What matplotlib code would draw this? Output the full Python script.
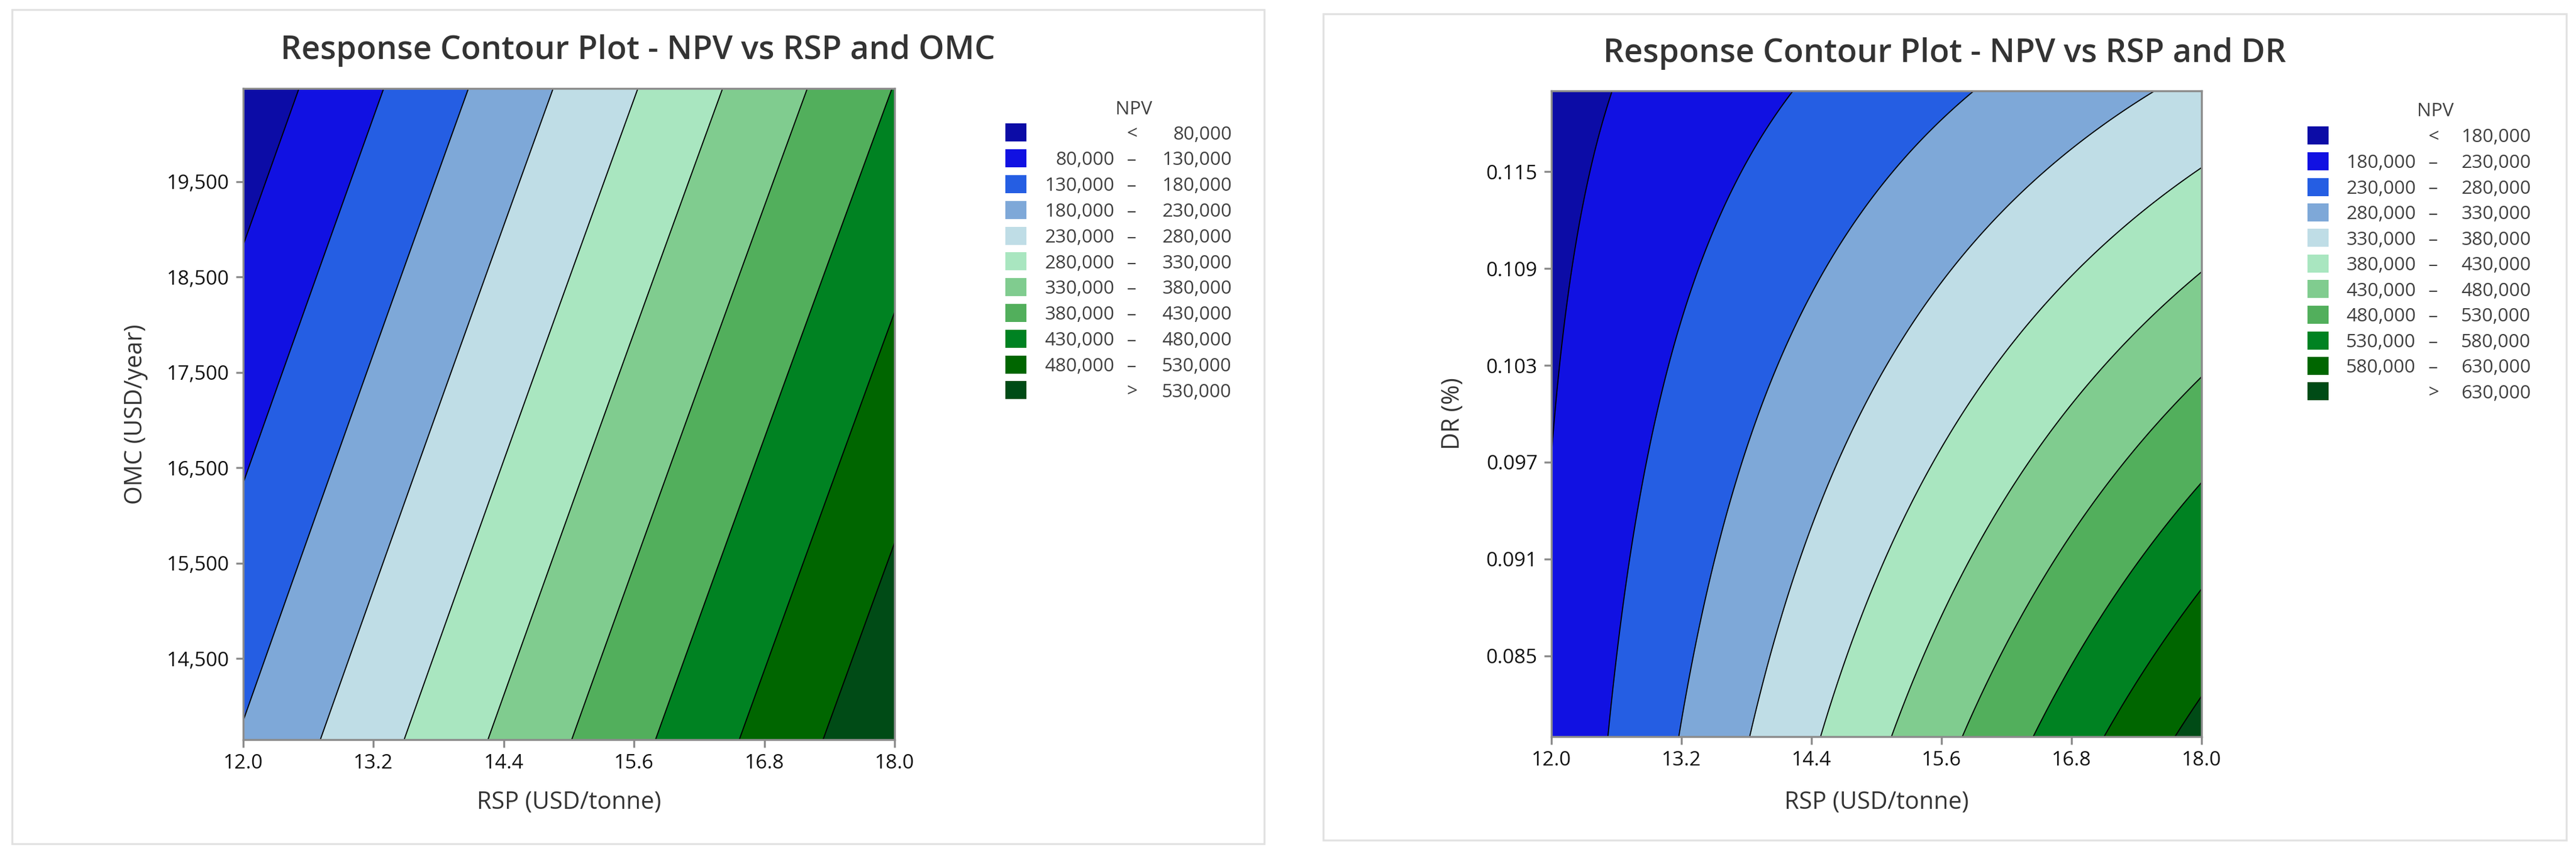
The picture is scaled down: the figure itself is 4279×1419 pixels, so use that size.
import numpy as np
import matplotlib
matplotlib.use('Agg')
import matplotlib.pyplot as plt
from matplotlib.patches import Rectangle
from matplotlib.ticker import FuncFormatter

# Werte (NPV an Stuetzstellen)
rsp_pts_omc = [12.0, 15.0, 18.0]
omc_pts = [13650, 17062.5, 20475]
npv_omc = [[184000, 378300, 572700],
           [115500, 308800, 502100],
           [47100, 239300, 431500]]

rsp_pts_dr = [12.0, 13.5, 15.0, 16.5, 18.0]
dr_pts = [0.08, 0.09, 0.10, 0.11, 0.12]
npv_dr = [[191100, 305400, 419700, 534000, 648300],
          [183200, 280800, 378300, 475900, 573400],
          [178600, 258600, 338600, 418600, 498700],
          [170900, 233300, 295700, 358100, 420500],
          [163600, 208300, 253100, 297800, 342500]]

levels_omc = [80000, 130000, 180000, 230000, 280000, 330000,
              380000, 430000, 480000, 530000]
levels_dr = [180000, 230000, 280000, 330000, 380000, 430000,
             480000, 530000, 580000, 630000]

rsp_ticks = [12.0, 13.2, 14.4, 15.6, 16.8, 18.0]
omc_ticks = [14500, 15500, 16500, 17500, 18500, 19500]
dr_ticks = [0.085, 0.091, 0.097, 0.103, 0.109, 0.115]

colors = ['#0c0ca6', '#1111e2', '#255ee3', '#7ea8d8', '#bfdde6', '#a9e6c0',
          '#80cc8f', '#52af5c', '#008222', '#006600', '#004b16']

W, H = 4279, 1419
plt.rcParams['font.family'] = ['Open Sans', 'DejaVu Sans']
fig = plt.figure(figsize=(W / 300, H / 300), dpi=300)


def fx(x):
    return x / W


def fy(y):
    return 1 - y / H


def response_surface(xp, yp, z, xlim, ylim, n=300):
    X, Y = np.meshgrid(xp, yp)
    Z = np.asarray(z, dtype=float)
    xm, xs = np.mean(xlim), (xlim[1] - xlim[0]) / 2
    ym, ys = np.mean(ylim), (ylim[1] - ylim[0]) / 2
    u, v = (X.ravel() - xm) / xs, (Y.ravel() - ym) / ys
    A = np.column_stack([np.ones_like(u), u, v, u * u, v * v, u * v])
    coef, *_ = np.linalg.lstsq(A, Z.ravel(), rcond=None)
    gx = np.linspace(xlim[0], xlim[1], n)
    gy = np.linspace(ylim[0], ylim[1], n)
    GX, GY = np.meshgrid(gx, gy)
    U, V = (GX - xm) / xs, (GY - ym) / ys
    GZ = coef[0] + coef[1] * U + coef[2] * V + coef[3] * U * U + coef[4] * V * V + coef[5] * U * V
    return GX, GY, GZ


def panel(box, frame, title, title_xy, xp, yp, z, ylim, levels, yticks, yfmt,
          ylabel, ylabel_x, leg):
    x0, y0, x1, y1 = box
    fig.patches.append(Rectangle((fx(frame[0]), fy(frame[3])),
                                 fx(frame[2] - frame[0]), (frame[3] - frame[1]) / H,
                                 transform=fig.transFigure, fill=False,
                                 edgecolor='#e2e2e2', lw=0.8))
    ax = fig.add_axes([fx(x0), fy(y1), fx(x1 - x0), (y1 - y0) / H])
    GX, GY, GZ = response_surface(xp, yp, z, (12.0, 18.0), ylim)
    bounds = [-1e12] + levels + [1e12]
    ax.contourf(GX, GY, GZ, levels=bounds, colors=colors)
    ax.contour(GX, GY, GZ, levels=levels, colors='black', linewidths=0.45)
    ax.set_xlim(12.0, 18.0)
    ax.set_ylim(*ylim)
    ax.set_xticks(rsp_ticks)
    ax.set_xticklabels([f'{t:.1f}' for t in rsp_ticks])
    ax.set_yticks(yticks)
    ax.yaxis.set_major_formatter(FuncFormatter(yfmt))
    ax.tick_params(length=3, width=0.8, color='#8c8c8c', labelsize=8,
                   labelcolor='#111111', pad=2.5)
    for s in ax.spines.values():
        s.set_color('#8c8c8c')
        s.set_linewidth(0.8)

    fig.text(fx(title_xy[0]), fy(title_xy[1]), title, ha='center', va='center',
             fontsize=13, color='#333333', fontweight='semibold')
    fig.text(fx((x0 + x1) / 2), fy(1334), 'RSP (USD/tonne)', ha='center',
             va='center', fontsize=9.5, color='#333333')
    fig.text(fx(ylabel_x), fy((y0 + y1) / 2), ylabel, ha='center', va='center',
             rotation=90, fontsize=9.5, color='#333333')

    # Legende von Hand
    sx, lo_r, dash_x, hi_r, npv_xy, row0, step = leg
    fig.text(fx(npv_xy[0]), fy(npv_xy[1]), 'NPV', ha='center', va='center',
             fontsize=7.5, color='#404040')
    labels = [(None, '<', levels[0])]
    labels += [(levels[i], '–', levels[i + 1]) for i in range(len(levels) - 1)]
    labels += [(None, '>', levels[-1])]
    for i, (lo, sym, hi) in enumerate(labels):
        cy = row0 + i * step
        fig.patches.append(Rectangle((fx(sx), fy(cy + 15)), fx(35), 30 / H,
                                     transform=fig.transFigure,
                                     facecolor=colors[i], edgecolor='none'))
        ty = fy(cy + 3)
        if lo is not None:
            fig.text(fx(lo_r), ty, f'{lo:,}', ha='right', va='center',
                     fontsize=7.5, color='#404040')
        fig.text(fx(dash_x), ty, sym, ha='center', va='center',
                 fontsize=7.5, color='#404040')
        fig.text(fx(hi_r), ty, f'{hi:,}', ha='right', va='center',
                 fontsize=7.5, color='#404040')
    return ax


panel((404, 147, 1486, 1229), (20, 16, 2100, 1402),
      'Response Contour Plot - NPV vs RSP and OMC', (1060, 84),
      rsp_pts_omc, omc_pts, npv_omc, (13650, 20475), levels_omc, omc_ticks,
      lambda v, p: f'{v:,.0f}', 'OMC (USD/year)', 226,
      (1670, 1851, 1880, 2046, (1883, 182), 220.5, 42.8))

panel((2577, 151, 3657, 1224), (2198, 23, 4263, 1396),
      'Response Contour Plot - NPV vs RSP and DR', (3230, 89),
      rsp_pts_dr, dr_pts, npv_dr, (0.08, 0.12), levels_dr, dr_ticks,
      lambda v, p: f'{v:.3f}', 'DR (%)', 2414,
      (3833, 4013, 4042, 4204, (4045, 185), 225.5, 42.5))

fig.savefig('out.png', dpi=300)
